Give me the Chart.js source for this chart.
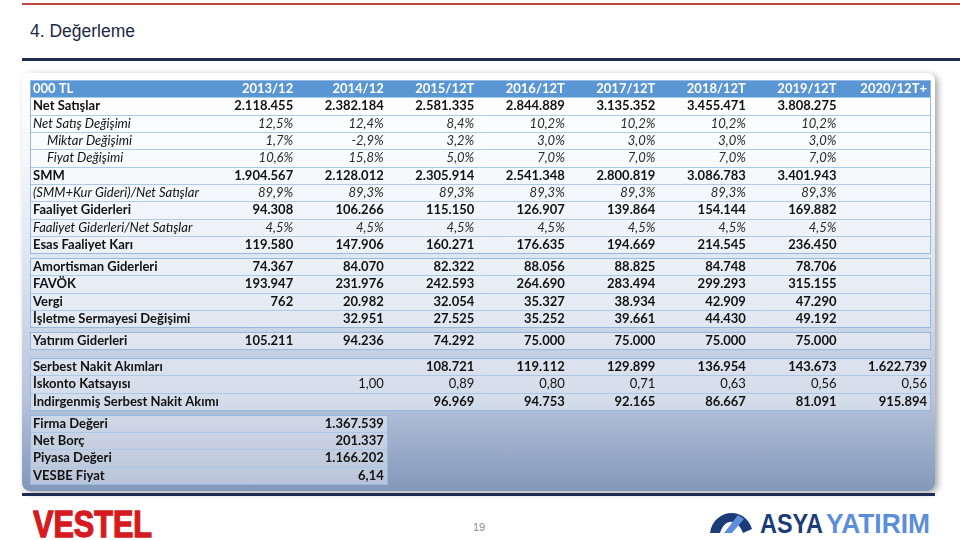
<!DOCTYPE html>
<html lang="tr">
<head>
<meta charset="utf-8">
<title>4. Değerleme</title>
<script src="https://cdn.jsdelivr.net/npm/chart.js@4.4.0/dist/chart.umd.min.js"></script>
<style>
    body { margin: 0; width: 960px; height: 540px; background: #fff; position: relative; overflow: hidden; font-family: "Liberation Sans", Arial, sans-serif; }
    #redLine { position: absolute; left: 22px; top: 3px; width: 938px; height: 2px; background: #c4453d; }
    #title { position: absolute; left: 30px; top: 23px; font-size: 17.5px; line-height: 17px; color: #1c2944; }
    #navyTop { position: absolute; left: 22px; top: 58px; width: 938px; height: 3px; background: #1d2b4f; }
    #box { position: absolute; left: 22px; top: 73px; width: 913px; height: 418px; border-radius: 8px;
           background: linear-gradient(#ffffff 0%, #f4f7fb 20%, #d8e2ef 50%, #b5c4db 78%, #8397ba 100%);
           box-shadow: 3px 2px 6px rgba(0, 0, 0, 0.35); }
    #box canvas { position: absolute; left: 0; top: 0; }
    #navyBottom { position: absolute; left: 22px; top: 493px; width: 913px; height: 3px; background: #1d2b4f; }
    #pageNo { position: absolute; left: 473px; top: 521px; font-size: 11px; color: #8a8a8a; }
    svg { position: absolute; }
</style>
</head>
<body>
<div id="redLine"></div>
<div id="title">4. Değerleme</div>
<div id="navyTop"></div>
<div id="box"><canvas id="tableChart" width="913" height="418"></canvas></div>
<div id="navyBottom"></div>
<svg style="left:33px;top:505px" width="125" height="35">
    <text x="0" y="32" font-family="Liberation Sans" font-weight="bold" font-size="37" fill="#d71920" stroke="#d71920" stroke-width="1.4" textLength="119" lengthAdjust="spacingAndGlyphs">VESTEL</text>
</svg>
<div id="pageNo">19</div>
<svg style="left:705px;top:505px" width="235" height="35">
    <path d="M5,28 C8,4 40,0 47,24 L38,28 C33,14 20,12 15,28 Z" fill="#1b3c78"/>
    <path d="M19,28 L33,10 L39,14 L27,28 Z" fill="#5b8ed8"/>
    <text x="55" y="28" font-family="Liberation Sans" font-weight="bold" font-size="28" fill="#1b3c78" textLength="63" lengthAdjust="spacingAndGlyphs">ASYA</text>
    <text x="121" y="28" font-family="Liberation Sans" font-weight="bold" font-size="28" fill="#5b8ed8" textLength="104" lengthAdjust="spacingAndGlyphs">YATIRIM</text>
</svg>
<script>
// --- data (000 TL) ---
var columns = ['2013/12', '2014/12', '2015/12T', '2016/12T', '2017/12T', '2018/12T', '2019/12T', '2020/12T+'];

var netSatislar       = [2118455, 2382184, 2581335, 2844889, 3135352, 3455471, 3808275, null];
var netSatisDegisimi  = [12.5, 12.4, 8.4, 10.2, 10.2, 10.2, 10.2, null];
var miktarDegisimi    = [1.7, -2.9, 3.2, 3.0, 3.0, 3.0, 3.0, null];
var fiyatDegisimi     = [10.6, 15.8, 5.0, 7.0, 7.0, 7.0, 7.0, null];
var smm               = [1904567, 2128012, 2305914, 2541348, 2800819, 3086783, 3401943, null];
var smmOrani          = [89.9, 89.3, 89.3, 89.3, 89.3, 89.3, 89.3, null];
var faaliyetGiderleri = [94308, 106266, 115150, 126907, 139864, 154144, 169882, null];
var fgOrani           = [4.5, 4.5, 4.5, 4.5, 4.5, 4.5, 4.5, null];
var esasFaaliyetKari  = [119580, 147906, 160271, 176635, 194669, 214545, 236450, null];

var amortisman        = [74367, 84070, 82322, 88056, 88825, 84748, 78706, null];
var favok             = [193947, 231976, 242593, 264690, 283494, 299293, 315155, null];
var vergi             = [762, 20982, 32054, 35327, 38934, 42909, 47290, null];
var isletmeSermayesi  = [null, 32951, 27525, 35252, 39661, 44430, 49192, null];

var yatirimGiderleri  = [105211, 94236, 74292, 75000, 75000, 75000, 75000, null];

var serbestNakit      = [null, null, 108721, 119112, 129899, 136954, 143673, 1622739];
var iskonto           = [null, 1.00, 0.89, 0.80, 0.71, 0.63, 0.56, 0.56];
var indirgenmis       = [null, null, 96969, 94753, 92165, 86667, 81091, 915894];

var degerLabels = ['Firma Değeri', 'Net Borç', 'Piyasa Değeri', 'VESBE Fiyat'];
var degerValues = [1367539, 201337, 1166202, 6.14];

// --- formatting ---
function fmtInt(n) { return String(n).replace(/\B(?=(\d{3})+(?!\d))/g, '.'); }
function fmtPct(v) { return v.toFixed(1).replace('.', ',') + '%'; }
function fmtDec(v) { return v.toFixed(2).replace('.', ','); }

// rows: label, values, value format, style (b = bold, i = italic, bn = bold label / normal values), indent
var groups = [
    [
        ['Net Satışlar', netSatislar, fmtInt, 'b'],
        ['Net Satış Değişimi', netSatisDegisimi, fmtPct, 'i'],
        ['Miktar Değişimi', miktarDegisimi, fmtPct, 'i', 14],
        ['Fiyat Değişimi', fiyatDegisimi, fmtPct, 'i', 14],
        ['SMM', smm, fmtInt, 'b'],
        ['(SMM+Kur Gideri)/Net Satışlar', smmOrani, fmtPct, 'i'],
        ['Faaliyet Giderleri', faaliyetGiderleri, fmtInt, 'b'],
        ['Faaliyet Giderleri/Net Satışlar', fgOrani, fmtPct, 'i'],
        ['Esas Faaliyet Karı', esasFaaliyetKari, fmtInt, 'b']
    ],
    [
        ['Amortisman Giderleri', amortisman, fmtInt, 'b'],
        ['FAVÖK', favok, fmtInt, 'b'],
        ['Vergi', vergi, fmtInt, 'b'],
        ['İşletme Sermayesi Değişimi', isletmeSermayesi, fmtInt, 'b']
    ],
    [
        ['Yatırım Giderleri', yatirimGiderleri, fmtInt, 'b']
    ],
    [
        ['Serbest Nakit Akımları', serbestNakit, fmtInt, 'b'],
        ['İskonto Katsayısı', iskonto, fmtDec, 'bn'],
        ['İndirgenmiş Serbest Nakit Akımı', indirgenmis, fmtInt, 'b']
    ]
];
var groupGaps = [0.27, 0.27, 0.5, 0.27];

// valuation block sits under the 2014/12 column
var degerRows = degerLabels.map(function (l, i) {
    var v = degerValues[i];
    return [l, [null, v], (v % 1 === 0 ? fmtInt : fmtDec), 'b'];
});
groups.push(degerRows);

// --- layout in row units (header row at 0) ---
var rows = [];
var frames = [];
var pos = 0;
groups.forEach(function (g, gi) {
    var start = pos;
    g.forEach(function (r) {
        pos += 1;
        rows.push({ label: r[0], values: r[1], fmt: r[2], style: r[3], indent: r[4] || 0, y: pos });
    });
    frames.push({
        top: gi === 0 ? -0.5 : start + 0.5,
        bottom: pos + 0.5,
        firstRow: start + 1,
        lastRow: pos,
        end: gi === 4 ? 2 : columns.length,
        header: gi === 0
    });
    if (gi < groupGaps.length) pos += groupGaps[gi];
});

var labelCol = -1.94;
var FONT = 'Lato, "Open Sans", sans-serif';

function fontFor(style, isLabel) {
    if (style === 'i') return 'italic 13px ' + FONT;
    if (style === 'bn' && !isLabel) return '13px ' + FONT;
    return 'bold 13px ' + FONT;
}

var tablePlugin = {
    id: 'valuationTable',
    beforeDatasetsDraw: function (chart) {
        var ctx = chart.ctx, xs = chart.scales.x, ys = chart.scales.y;
        var left = Math.round(xs.getPixelForValue(labelCol)) + 0.5;
        ctx.save();
        frames.forEach(function (f) {
            var right = Math.round(xs.getPixelForValue(f.end)) + 0.5;
            var top = Math.round(ys.getPixelForValue(f.top)) + 0.5;
            var bottom = Math.round(ys.getPixelForValue(f.bottom)) + 0.5;
            ctx.fillStyle = 'rgba(255,255,255,0.42)';
            ctx.fillRect(left, top, right - left, bottom - top);
            if (f.header) {
                var hb = Math.round(ys.getPixelForValue(0.5)) + 0.5;
                ctx.fillStyle = '#5a96d4';
                ctx.fillRect(left, top, right - left, hb - top);
            }
            ctx.strokeStyle = 'rgba(170,199,232,0.95)';
            ctx.lineWidth = 1;
            for (var p = f.firstRow + 0.5; p < f.lastRow; p += 1) {
                var yy = Math.round(ys.getPixelForValue(p)) + 0.5;
                ctx.beginPath();
                ctx.moveTo(left, yy);
                ctx.lineTo(right, yy);
                ctx.stroke();
            }
            ctx.strokeStyle = 'rgba(150,185,225,1)';
            ctx.strokeRect(left, top, right - left, bottom - top);
        });
        ctx.restore();
    },
    afterDatasetsDraw: function (chart) {
        var ctx = chart.ctx, xs = chart.scales.x, ys = chart.scales.y;
        var left = xs.getPixelForValue(labelCol) + 3;
        ctx.save();
        ctx.textBaseline = 'middle';

        // header
        var hy = ys.getPixelForValue(0);
        ctx.fillStyle = '#ffffff';
        ctx.font = 'bold 13px ' + FONT;
        ctx.textAlign = 'left';
        ctx.fillText('000 TL', left, hy);
        ctx.textAlign = 'right';
        columns.forEach(function (c, j) {
            ctx.fillText(c, xs.getPixelForValue(j + 1) - 3, hy);
        });

        // row labels
        ctx.textAlign = 'left';
        ctx.fillStyle = '#111111';
        rows.forEach(function (r) {
            ctx.font = fontFor(r.style, true);
            ctx.fillText(r.label, left + r.indent, ys.getPixelForValue(r.y));
        });

        // cell values, positioned by the dataset elements
        ctx.textAlign = 'right';
        chart.data.datasets.forEach(function (ds, di) {
            var meta = chart.getDatasetMeta(di);
            ctx.font = fontFor(ds.cellStyle, false);
            ctx.fillStyle = ds.cellStyle === 'i' ? '#2a2a2a' : '#111111';
            meta.data.forEach(function (el, i) {
                ctx.fillText(ds.data[i].t, el.x - 3, el.y);
            });
        });
        ctx.restore();
    }
};

var datasets = rows.map(function (r) {
    var pts = [];
    r.values.forEach(function (v, j) {
        if (v !== null && v !== undefined) pts.push({ x: j + 1, y: r.y, t: r.fmt(v) });
    });
    return { label: r.label, data: pts, pointRadius: 0, cellStyle: r.style };
});

function drawTable() {
    var ctx = document.getElementById('tableChart').getContext('2d');
    new Chart(ctx, {
        type: 'scatter',
        data: { datasets: datasets },
        options: {
            responsive: false,
            animation: false,
            events: [],
            layout: { padding: { left: 8, right: 5, top: 7, bottom: 7 } },
            plugins: { legend: { display: false }, tooltip: { enabled: false } },
            scales: {
                x: { type: 'linear', display: false, min: labelCol, max: columns.length },
                y: { type: 'linear', display: false, reverse: true, min: -0.5, max: pos + 0.5 }
            }
        },
        plugins: [tablePlugin]
    });
}

Promise.all([
    document.fonts.load('bold 13px Lato'),
    document.fonts.load('italic 13px Lato'),
    document.fonts.load('13px Lato')
]).then(drawTable, drawTable);
</script>
</body>
</html>
